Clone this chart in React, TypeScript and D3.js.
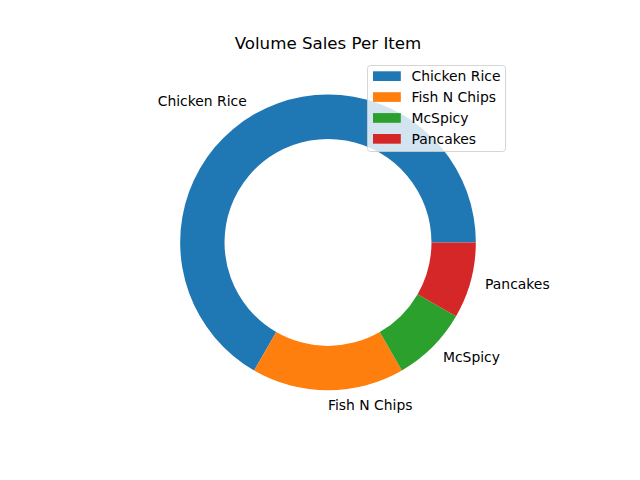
import * as d3 from "d3"

const items = ["Chicken Rice", "Fish N Chips", "McSpicy", "Pancakes"]
const sales = [8, 2, 1, 1]
const colors = ["#1f77b4", "#ff7f0e", "#2ca02c", "#d62728"]
const title = "Volume Sales Per Item"

const W = 640, H = 480
const cx = 328, cy = 242.4
const R = 147.84
const font = "DejaVu Sans, sans-serif"

export default function App() {
  const data = items.map((name, i) => ({ name, value: sales[i], color: colors[i] }))
  // matplotlib style: start at 3 o'clock, go counterclockwise
  const pie = d3.pie<any>().value(d => d.value).sort(null)
    .startAngle(Math.PI / 2).endAngle(Math.PI / 2 - 2 * Math.PI)
  const arcs = pie(data)
  const arc = d3.arc<any>().innerRadius(R * 0.7).outerRadius(R)

  const lgX = 367.5, lgY = 65.5, rowH = 20.9
  return (
    <svg width={W} height={H} style={{ position: "absolute", left: 0, top: 0, background: "#fff" }} fontFamily={font}>
      <text x={cx} y={49} textAnchor="middle" fontSize={16.67} fill="#000">{title}</text>
      <g transform={`translate(${cx},${cy})`}>
        {arcs.map((a, i) => <path key={i} d={arc(a) || ""} fill={a.data.color} />)}
        {arcs.map((a, i) => {
          const m = (a.startAngle + a.endAngle) / 2
          const x = 1.1 * R * Math.sin(m), y = -1.1 * R * Math.cos(m)
          return (
            <text key={"l" + i} x={x} y={y + 4.5} fontSize={13.9} fill="#000"
              textAnchor={x > -1e-6 ? "start" : "end"}>{a.data.name}</text>
          )
        })}
      </g>
      <g>
        <rect x={lgX} y={lgY} width={138} height={86} rx={3} fill="#fff" fillOpacity={0.8} stroke="#ccc" strokeOpacity={0.8} />
        {data.map((d, i) => (
          <g key={i} transform={`translate(0,${lgY + 10.7 + i * rowH})`}>
            <rect x={373} y={-4.9} width={27.8} height={9.7} fill={d.color} />
            <text x={411.5} y={5} fontSize={13.9} fill="#000">{d.name}</text>
          </g>
        ))}
      </g>
    </svg>
  )
}
